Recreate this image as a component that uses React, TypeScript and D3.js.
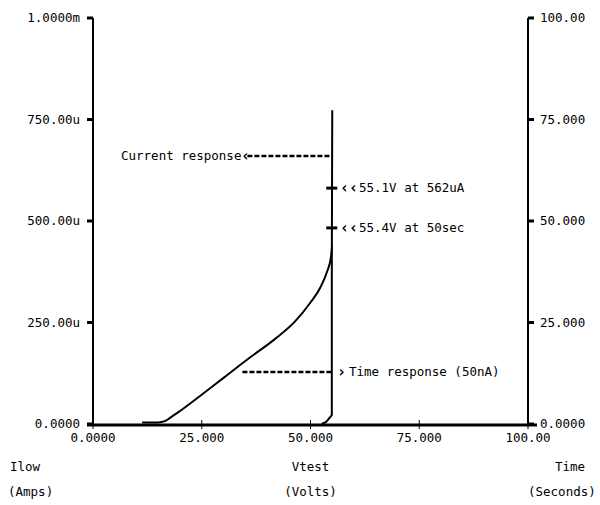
import React, { useRef, useEffect } from "react";
import * as d3 from "d3";

// Current response: Ilow (uA) vs Vtest (V)
const currentVolts = [11.3, 15, 16.5, 17.7, 20, 24.6, 30.3, 36.0, 41.8, 46.4, 49.9, 52.2, 53.8, 54.7, 54.95];
const currentMicroAmps = [4, 4, 7, 15, 32, 69, 116, 163, 209, 252, 298, 335, 375, 411, 436];

// Time response: Time (s) vs Vtest (V)
const timeVolts = [52.6, 53.6, 54.9, 54.9, 55.0];
const timeSeconds = [0, 0.5, 2.2, 40, 77.3];

const xTicks = [0, 25, 50, 75, 100];
const xTickLabels = ["0.0000", "25.000", "50.000", "75.000", "100.00"];
const leftTicks = [0, 250, 500, 750, 1000];
const leftTickLabels = ["0.0000", "250.00u", "500.00u", "750.00u", "1.0000m"];
const rightTicks = [0, 25, 50, 75, 100];
const rightTickLabels = ["0.0000", "25.000", "50.000", "75.000", "100.00"];

// annotation levels
const currentNoteLevel = 660; // uA
const markerCurrent = 581; // uA
const markerTime = 48.3; // s
const timeNoteLevel = 12.8; // s
const noteStartVolts = 35.5;
const noteEndVolts = 55.0;

const App = () => {
  const svgRef = useRef<SVGSVGElement>(null);

  useEffect(() => {
    document.body.style.margin = "0";
    const width = 600;
    const height = 505;
    const margin = { top: 18, right: 72, bottom: 81, left: 93 };
    const font = "'DejaVu Sans Mono', monospace";
    const fs = "12.5px";

    const svg = d3
      .select(svgRef.current)
      .attr("width", width)
      .attr("height", height)
      .style("background", "#fff");
    svg.selectAll("*").remove();

    const x = d3.scaleLinear().domain([0, 100]).range([margin.left, width - margin.right]);
    const yLeft = d3.scaleLinear().domain([0, 1000]).range([height - margin.bottom, margin.top]);
    const yRight = d3.scaleLinear().domain([0, 100]).range([height - margin.bottom, margin.top]);

    const x0 = margin.left;
    const x1 = width - margin.right;
    const yBase = height - margin.bottom;

    // Left axis
    svg.append("line")
      .attr("x1", x0).attr("x2", x0).attr("y1", margin.top).attr("y2", yBase)
      .attr("stroke", "#000").attr("stroke-width", 2);
    leftTicks.forEach((t, i) => {
      svg.append("line")
        .attr("x1", x0 - 6).attr("x2", x0).attr("y1", yLeft(t)).attr("y2", yLeft(t))
        .attr("stroke", "#000").attr("stroke-width", 3);
      svg.append("text")
        .attr("x", 80).attr("y", yLeft(t)).attr("dy", "0.35em")
        .attr("text-anchor", "end")
        .style("font-family", font).style("font-size", fs)
        .text(leftTickLabels[i]);
    });

    // Right axis
    svg.append("line")
      .attr("x1", x1).attr("x2", x1).attr("y1", margin.top).attr("y2", yBase)
      .attr("stroke", "#000").attr("stroke-width", 2);
    rightTicks.forEach((t, i) => {
      svg.append("line")
        .attr("x1", x1).attr("x2", x1 + 6).attr("y1", yRight(t)).attr("y2", yRight(t))
        .attr("stroke", "#000").attr("stroke-width", 3);
      svg.append("text")
        .attr("x", 540).attr("y", yRight(t)).attr("dy", "0.35em")
        .style("font-family", font).style("font-size", fs)
        .text(rightTickLabels[i]);
    });

    // Bottom axis
    svg.append("line")
      .attr("x1", x0 - 6).attr("x2", x1 + 9).attr("y1", yBase + 1).attr("y2", yBase + 1)
      .attr("stroke", "#000").attr("stroke-width", 3);
    xTicks.forEach((t, i) => {
      svg.append("line")
        .attr("x1", x(t)).attr("x2", x(t)).attr("y1", yBase - 4).attr("y2", yBase + 5)
        .attr("stroke", "#000").attr("stroke-width", 1);
      svg.append("text")
        .attr("x", x(t)).attr("y", 438).attr("dy", "0.35em")
        .attr("text-anchor", "middle")
        .style("font-family", font).style("font-size", fs)
        .text(xTickLabels[i]);
    });

    // Axis titles and free text
    const title = (tx: number, ty: number, s: string, anchor = "start") =>
      svg.append("text")
        .attr("x", tx).attr("y", ty).attr("dy", "0.35em")
        .attr("text-anchor", anchor)
        .style("font-family", font).style("font-size", fs)
        .text(s);
    title(10, 467, "Ilow");
    title(8, 492, "(Amps)");
    title(x(50), 467, "Vtest", "middle");
    title(x(50), 492, "(Volts)", "middle");
    title(555, 467, "Time");
    title(528, 492, "(Seconds)");

    // Curves
    const currentData = currentVolts.map((v, i) => [v, currentMicroAmps[i]] as [number, number]);
    const currentLine = d3.line<[number, number]>()
      .x((d) => x(d[0]))
      .y((d) => yLeft(d[1]))
      .curve(d3.curveMonotoneX);
    svg.append("path")
      .datum(currentData)
      .attr("d", currentLine)
      .attr("fill", "none").attr("stroke", "#000").attr("stroke-width", 2);

    const timeData = timeVolts.map((v, i) => [v, timeSeconds[i]] as [number, number]);
    const timeLine = d3.line<[number, number]>()
      .x((d) => x(d[0]))
      .y((d) => yRight(d[1]));
    svg.append("path")
      .datum(timeData)
      .attr("d", timeLine)
      .attr("fill", "none").attr("stroke", "#000").attr("stroke-width", 2);

    // Annotations
    const dash = (xa: number, xb: number, yy: number) =>
      svg.append("line")
        .attr("x1", xa).attr("x2", xb).attr("y1", yy).attr("y2", yy)
        .attr("stroke", "#000").attr("stroke-width", 2.5)
        .attr("stroke-dasharray", "5,2");

    const yCur = yLeft(currentNoteLevel);
    dash(x(noteStartVolts), x(noteEndVolts), yCur);
    title(121, yCur, "Current response");
    title(241, yCur, "‹").style("font-size", "15px").style("font-weight", "bold");

    const yTime = yRight(timeNoteLevel);
    dash(x(noteStartVolts) - 5, x(noteEndVolts), yTime);
    title(337, yTime, "›").style("font-size", "15px").style("font-weight", "bold");
    title(349, yTime, "Time response (50nA)");

    const marker = (yy: number, s: string) => {
      svg.append("line")
        .attr("x1", x(noteEndVolts) - 6).attr("x2", x(noteEndVolts) + 5)
        .attr("y1", yy).attr("y2", yy)
        .attr("stroke", "#000").attr("stroke-width", 3);
      title(340, yy, "‹‹").style("font-size", "15px").style("font-weight", "bold");
      title(359, yy, s);
    };
    marker(yLeft(markerCurrent), "55.1V at 562uA");
    marker(yRight(markerTime), "55.4V at 50sec");
  }, []);

  return <svg ref={svgRef} style={{ display: "block" }}></svg>;
};

export default App;
